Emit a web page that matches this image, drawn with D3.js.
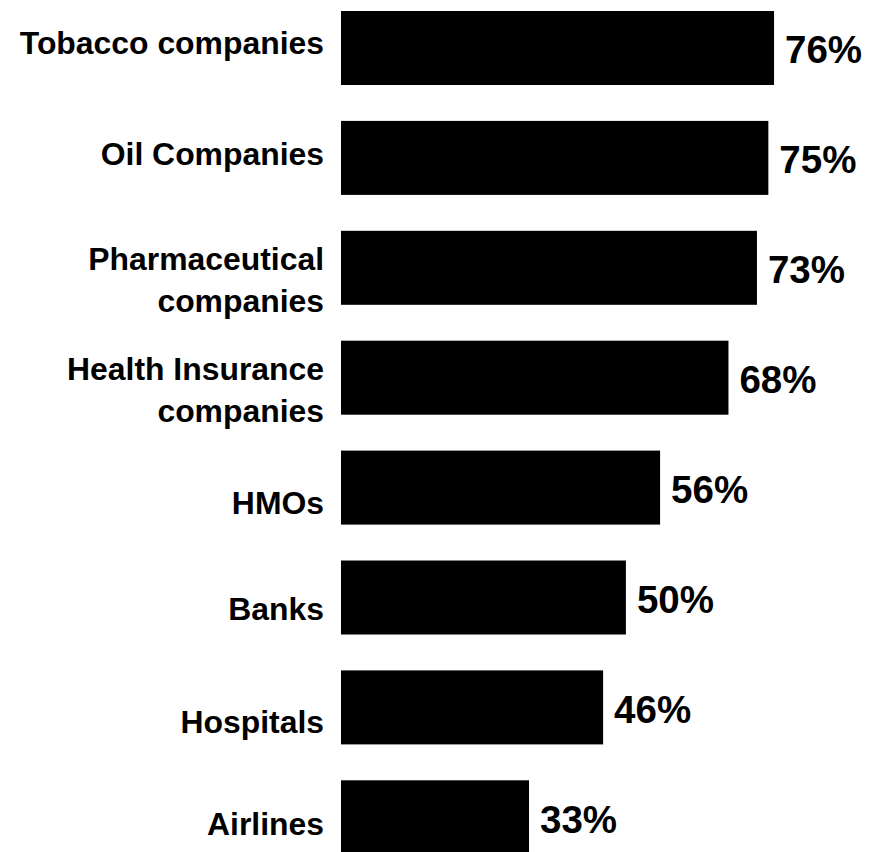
<!DOCTYPE html>
<html>
<head>
<meta charset="utf-8">
<script src="https://cdn.jsdelivr.net/npm/d3@7"></script>
<style>
  html, body { margin: 0; padding: 0; background: #fff; }
  svg { display: block; }
  text { font-family: "Liberation Sans", Arial, Helvetica, sans-serif; font-weight: bold; fill: #000; }
</style>
</head>
<body>
<svg id="chart" width="880" height="852"></svg>
<script>
// Share of respondents, by industry (percent)
const categories = [
  "Tobacco companies",
  "Oil Companies",
  "Pharmaceutical companies",
  "Health Insurance companies",
  "HMOs",
  "Banks",
  "Hospitals",
  "Airlines"
];
const values = [76, 75, 73, 68, 56, 50, 46, 33];

// How each category label is broken into lines
const labelLines = [
  ["Tobacco companies"],
  ["Oil Companies"],
  ["Pharmaceutical", "companies"],
  ["Health Insurance", "companies"],
  ["HMOs"],
  ["Banks"],
  ["Hospitals"],
  ["Airlines"]
];

// Layout
const labelRight = 324;
const labelSize = 31.9;
const lineGap = 42;
const valueSize = 38.5;
// vertical nudge of each category label's first baseline from its bar centre
const labelShift = [6.5, 7.5, 2.5, 2, 26.5, 22.5, 25.5, 18];

const svg = d3.select("#chart");

const x = d3.scaleLinear().domain([0, 100]).range([341, 910.8]);
const y = d3.scaleBand()
  .domain(categories)
  .range([11, 854.3])
  .paddingInner(0.3267)
  .paddingOuter(0);

const rows = categories.map((c, i) => ({ cat: c, value: values[i], lines: labelLines[i], shift: labelShift[i] }));

// bars
svg.append("g")
  .selectAll("rect")
  .data(rows)
  .join("rect")
  .attr("x", x(0))
  .attr("y", d => y(d.cat))
  .attr("width", d => x(d.value) - x(0))
  .attr("height", y.bandwidth())
  .attr("fill", "#000");

// value labels
svg.append("g")
  .selectAll("text")
  .data(rows)
  .join("text")
  .attr("x", d => x(d.value) + 11)
  .attr("y", d => y(d.cat) + y.bandwidth() / 2 + 15.5)
  .attr("font-size", valueSize)
  .text(d => d.value + "%");

// category labels
const cat = svg.append("g")
  .selectAll("text")
  .data(rows)
  .join("text")
  .attr("text-anchor", "end")
  .attr("font-size", labelSize)
  .attr("y", d => y(d.cat) + y.bandwidth() / 2 + d.shift);

cat.selectAll("tspan")
  .data(d => d.lines)
  .join("tspan")
  .attr("x", labelRight)
  .attr("dy", (l, i) => i === 0 ? 0 : lineGap)
  .text(l => l);
</script>
</body>
</html>
